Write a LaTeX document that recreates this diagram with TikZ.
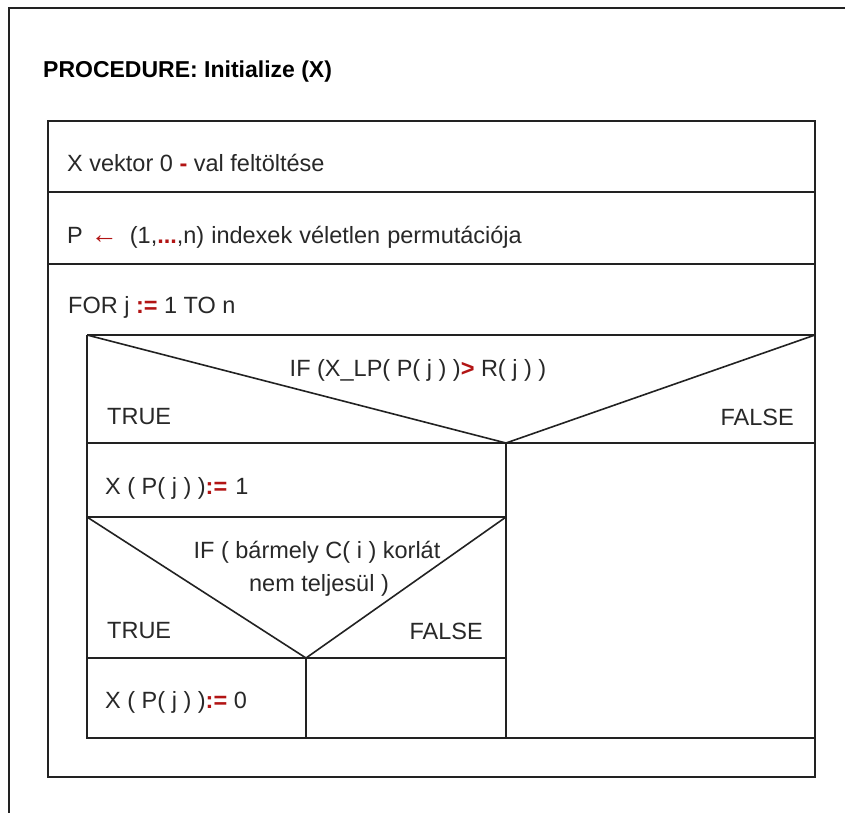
\documentclass[tikz,border=0pt]{standalone}
\usepackage{fontspec}
\setmainfont{Liberation Sans}
\definecolor{kred}{RGB}{178,20,20}
\definecolor{kline}{RGB}{34,34,34}
\definecolor{ktext}{RGB}{40,40,40}
\newcommand{\rd}[1]{\textcolor{kred}{\textbf{#1}}}
\begin{document}
\begin{tikzpicture}[x=1pt,y=-1pt,
  ln/.style={draw=kline,line width=1.6pt},
  txt/.style={inner sep=0pt,text=ktext,font=\fontsize{23.5}{28}\selectfont},
  ttl/.style={inner sep=0pt,text=black,font=\fontsize{23}{28}\selectfont\bfseries}]
\useasboundingbox (0,0) rectangle (845,812);
\fill[white] (0,0) rectangle (845,812);
% outer frame
\draw[ln] (9,820) -- (9,8) -- (850,8);
\node[ttl,anchor=west] (title) at (43,72) {PROCEDURE: Initialize (X)};
% main box
\draw[ln] (48,121) rectangle (815,777);
\draw[ln] (48,192) -- (815,192);
\draw[ln] (48,264) -- (815,264);
\node[txt,anchor=west] (r1) at (67,163) {X vektor 0 \rd{-} val feltöltése};
\node[txt,anchor=west] (r2) at (67,237) {P\hspace{8pt}\textcolor{kred}{\fontsize{27}{28}\selectfont\textbf{←}}\hspace{12pt}(1,\rd{...},n)\hspace{7pt}indexek\hspace{7pt}véletlen\hspace{7pt}permutációja};
\node[txt,anchor=west] (r3) at (68,307) {FOR j \rd{:=} 1 TO n};
% outer IF
\draw[ln] (87,335) -- (815,335);
\draw[ln] (87,335) -- (87,738) -- (815,738);
\draw[ln] (87,335) -- (506,443) -- (815,335);
\draw[ln] (87,443) -- (815,443);
\draw[ln] (506,443) -- (506,738);
\node[txt] (if1) at (418,370) {IF (X\_LP( P( j ) )\rd{>} R( j ) )};
\node[txt,anchor=west] (t1) at (107,417) {TRUE};
\node[txt,anchor=east] (f1) at (794,417) {FALSE};
% left branch
\node[txt,anchor=west] (a1) at (105,488) {X ( P( j ) )\rd{:=}\hspace{8pt}1};
\draw[ln] (87,517) -- (506,517);
\draw[ln] (87,517) -- (306,658) -- (506,517);
\draw[ln] (87,658) -- (506,658);
\draw[ln] (306,658) -- (306,738);
\node[txt] (if2a) at (317,552) {IF ( bármely C( i ) korlát};
\node[txt] (if2b) at (319,585) {nem teljesül )};
\node[txt,anchor=west] (t2) at (107,631) {TRUE};
\node[txt,anchor=east] (f2) at (483,631) {FALSE};
\node[txt,anchor=west] (a0) at (105,702) {X ( P( j ) )\rd{:=} 0};
\end{tikzpicture}
\end{document}
